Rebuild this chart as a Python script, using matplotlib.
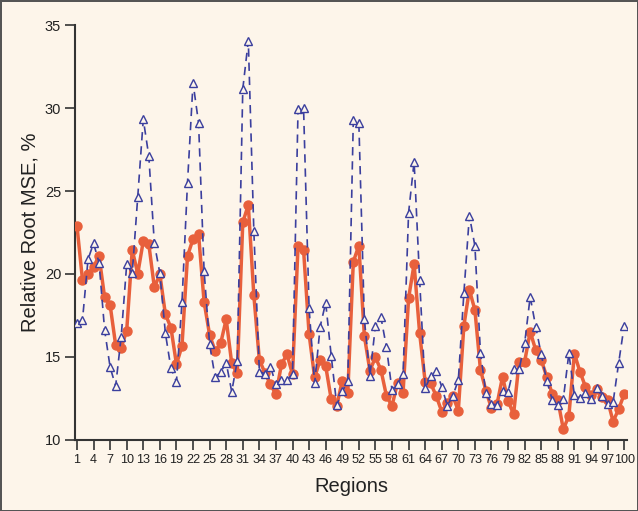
import numpy as np
import matplotlib
matplotlib.use('Agg')
import matplotlib.pyplot as plt

plt.rcParams['font.family'] = ['Liberation Sans', 'DejaVu Sans']

# relative root MSE (%) for each of the 100 regions
regions = np.arange(1, 101)

rmse_red = [22.9, 19.64, 19.98, 20.44, 21.08, 18.6, 18.13, 15.72, 15.56, 16.59,
            21.45, 20.02, 21.99, 21.8, 19.2, 19.98, 17.57, 16.77, 14.56, 15.66,
            21.08, 22.11, 22.39, 18.33, 16.33, 15.36, 15.82, 17.27, 14.62, 14.02,
            23.11, 24.16, 18.73, 14.82, 14.05, 13.35, 12.75, 14.56, 15.16, 13.96,
            21.69, 21.45, 16.37, 13.77, 14.82, 14.46, 12.45, 12.06, 13.56, 12.81,
            20.74, 21.71, 16.27, 14.18, 14.98, 14.22, 12.65, 12.05, 13.45, 12.85,
            18.54, 20.6, 16.43, 13.51, 13.41, 12.65, 11.71, 12.25, 12.65, 11.77,
            16.87, 19.05, 17.83, 14.24, 12.96, 11.9, 12.15, 13.81, 12.35, 11.55,
            14.72, 14.72, 16.53, 15.42, 14.82, 13.81, 12.77, 12.41, 10.64, 11.46,
            15.2, 14.12, 13.21, 12.71, 13.05, 12.61, 12.41, 11.11, 11.85, 12.75]

rmse_blue = [17.03, 17.23, 20.88, 21.85, 20.68, 16.63, 14.38, 13.25, 16.22, 20.6,
             20.04, 24.66, 29.32, 27.1, 21.85, 20.04, 16.43, 14.32, 13.51, 18.29,
             25.5, 31.52, 29.11, 20.2, 15.76, 13.78, 14.08, 14.66, 12.91, 14.76,
             31.14, 34.06, 22.61, 14.12, 13.98, 14.42, 13.35, 13.61, 13.61, 13.96,
             29.92, 29.98, 17.93, 13.41, 16.83, 18.27, 15.08, 12.11, 12.93, 13.55,
             29.28, 29.12, 17.27, 13.86, 16.89, 17.39, 15.58, 13.01, 13.35, 13.96,
             23.69, 26.77, 19.64, 13.11, 13.86, 14.16, 13.21, 12.07, 12.65, 13.61,
             18.83, 23.52, 21.69, 15.27, 12.81, 12.17, 12.11, 12.97, 12.91, 14.28,
             14.26, 15.82, 18.63, 16.83, 15.16, 13.57, 12.41, 12.11, 12.47, 15.22,
             12.71, 12.51, 12.81, 12.47, 13.11, 12.67, 12.17, 12.27, 14.62, 16.87]

xticks = list(range(1, 101, 3))
yticks = [10, 15, 20, 25, 30, 35]

bg = '#fdf5ea'
fig = plt.figure(figsize=(6.38, 5.11), dpi=100, facecolor=bg,
                 edgecolor='#555555', linewidth=2)
ax = fig.add_axes([0.1176, 0.139, 0.865, 0.812])
ax.set_facecolor(bg)

ax.plot(regions, rmse_red, color='#e8603c', lw=2.5, marker='o', ms=6.5,
        mec='#e8603c', mfc='#e8603c', zorder=3)
ax.plot(regions, rmse_blue, color='#3b3f9e', lw=1.2, ls=(0, (5, 3.5)),
        marker='^', ms=5.5, mfc=bg, mec='#3b3f9e', mew=1.0, zorder=4)

ax.set_xlim(0.65, 100.5)
ax.set_ylim(10, 35)
ax.set_xticks(xticks)
ax.set_xticklabels([str(t) for t in xticks], fontsize=9.1)
ax.set_yticks(yticks)
ax.set_yticklabels([str(t) for t in yticks], fontsize=10.5)
ax.tick_params(direction='out', length=7, width=1.2, color='#333333',
               labelcolor='#222222', pad=3)

for s in ['top', 'right']:
    ax.spines[s].set_visible(False)
for s in ['left', 'bottom']:
    ax.spines[s].set_color('#333333')
    ax.spines[s].set_linewidth(1.5)

ax.set_xlabel('Regions', fontsize=14.5, color='#222222', labelpad=8)
ax.set_ylabel('Relative Root MSE, %', fontsize=14.5, color='#222222', labelpad=4)

fig.savefig('out.png', dpi=100, facecolor=bg, edgecolor='#555555')
